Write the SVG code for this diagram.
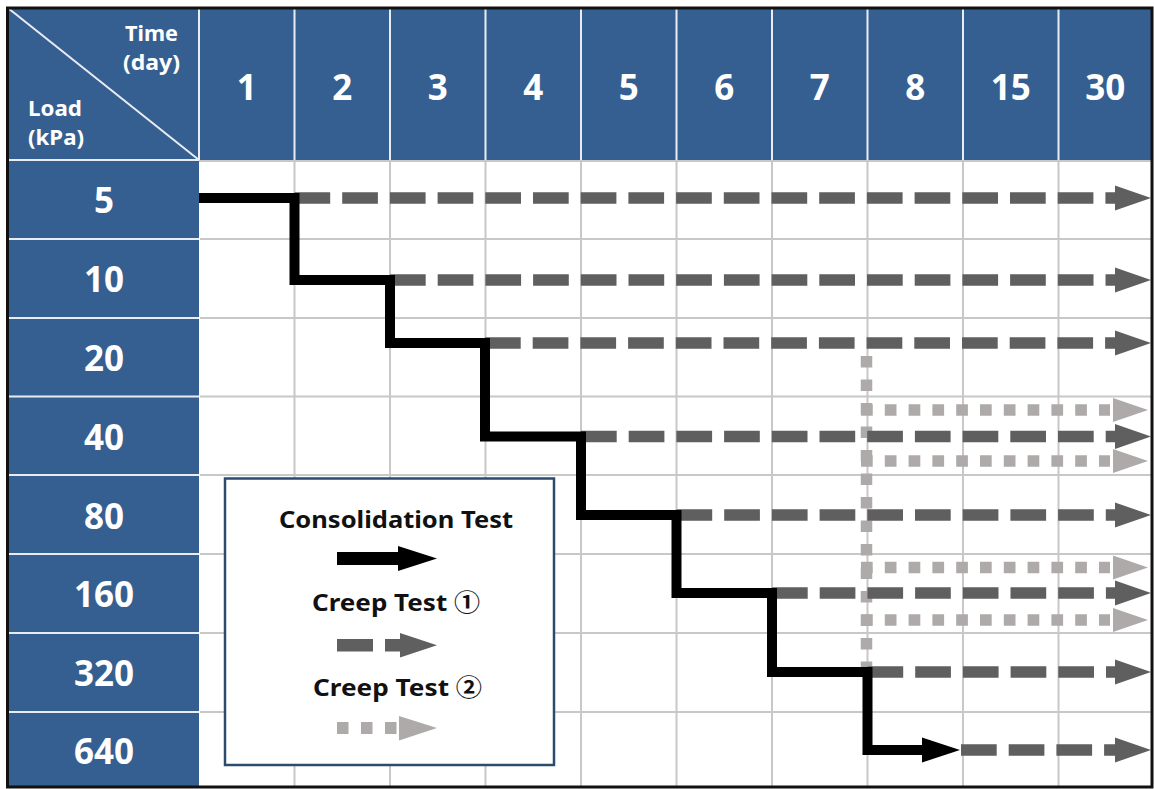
<svg xmlns="http://www.w3.org/2000/svg" width="1154" height="789" viewBox="0 0 1154 789">
<style>
.hdr{fill:#365f91}
.wl{stroke:#e9edf3;stroke-width:2;fill:none}
.gl{stroke:#c8c8c8;stroke-width:2;fill:none}
.num{font-family:"Noto Sans","Open Sans","Noto Sans CJK KR",sans-serif;font-weight:bold;font-size:35px;fill:#ffffff;text-anchor:middle}
.ax{font-family:"Noto Sans","Open Sans","Noto Sans CJK KR",sans-serif;font-weight:bold;font-size:21px;fill:#ffffff}
.leg{font-family:"Noto Sans","Noto Sans CJK KR",sans-serif;font-weight:bold;font-size:24px;fill:#111111}
.cons{stroke:#000000;stroke-width:10;fill:none;stroke-linejoin:miter;stroke-linecap:butt}
.dash{stroke:#5f5f5f;stroke-width:11.5;fill:none;stroke-dasharray:35.7 12}
.dot{stroke:#aeaaaa;stroke-width:11.5;fill:none;stroke-dasharray:11.7 12.1}
.dh{fill:#5f5f5f}
.oh{fill:#aeaaaa}
</style>
<rect x="0" y="0" width="1154" height="789" fill="#ffffff"/>
<g id="header">
<rect class="hdr" x="8" y="8" width="1144" height="152"/>
<rect class="hdr" x="8" y="160" width="191" height="628"/>
<line class="wl" x1="8" y1="8" x2="199" y2="160"/>
<g id="axis-labels">
<text class="ax" x="178" y="41" text-anchor="end" textLength="53" lengthAdjust="spacingAndGlyphs">Time</text>
<text class="ax" x="180" y="70" text-anchor="end" textLength="57" lengthAdjust="spacingAndGlyphs">(day)</text>
<text class="ax" x="28" y="116" textLength="54" lengthAdjust="spacingAndGlyphs">Load</text>
<text class="ax" x="28" y="145" textLength="56" lengthAdjust="spacingAndGlyphs">(kPa)</text>
</g>
<path class="wl" d="M199 8V160M294.5 8V160M390 8V160M485.5 8V160M581 8V160M676.5 8V160M772 8V160M867.5 8V160M963 8V160M1058.5 8V160"/>
<path class="wl" d="M8 160H199M8 239H199M8 318H199M8 396.5H199M8 475H199M8 554H199M8 633H199M8 712H199"/>
</g>
<g id="grid">
<path class="gl" d="M199 161H1151"/>
<path class="gl" d="M294.5 161V787M390 161V787M485.5 161V787M581 161V787M676.5 161V787M772 161V787M867.5 161V787M963 161V787M1058.5 161V787"/>
<path class="gl" d="M200 239H1151M200 318H1151M200 396.5H1151M200 475H1151M200 554H1151M200 633H1151M200 712H1151"/>
</g>
<g id="col-labels">
<text class="num" x="246.75" y="100">1</text>
<text class="num" x="342.25" y="100">2</text>
<text class="num" x="437.75" y="100">3</text>
<text class="num" x="533.25" y="100">4</text>
<text class="num" x="628.75" y="100">5</text>
<text class="num" x="724.25" y="100">6</text>
<text class="num" x="819.75" y="100">7</text>
<text class="num" x="915.25" y="100">8</text>
<text class="num" x="1010.75" y="100">15</text>
<text class="num" x="1105.25" y="100">30</text>
</g>
<g id="row-labels">
<text class="num" x="104" y="213">5</text>
<text class="num" x="104" y="292">10</text>
<text class="num" x="104" y="371">20</text>
<text class="num" x="104" y="450">40</text>
<text class="num" x="104" y="529">80</text>
<text class="num" x="104" y="607">160</text>
<text class="num" x="104" y="686">320</text>
<text class="num" x="104" y="764">640</text>
</g>
<g id="connectors">
<g id="creep2">
<line class="dot" x1="866.5" y1="356" x2="866.5" y2="673" style="stroke-dasharray:11.5 12"/>
<line class="dot" x1="861" y1="410" x2="1110" y2="410"/>
<polygon class="oh" points="1113,398 1148,410 1113,422"/>
<line class="dot" x1="861" y1="461" x2="1110" y2="461"/>
<polygon class="oh" points="1113,449 1148,461 1113,473"/>
<line class="dot" x1="861" y1="567.5" x2="1110" y2="567.5"/>
<polygon class="oh" points="1113,555.5 1148,567.5 1113,579.5"/>
<line class="dot" x1="861" y1="620" x2="1110" y2="620"/>
<polygon class="oh" points="1113,608 1148,620 1113,632"/>
</g>
<g id="creep1">
<line class="dash" x1="294.5" y1="198" x2="1117" y2="198"/>
<polygon class="dh" points="1115,185.5 1151,198 1115,210.5"/>
<line class="dash" x1="390" y1="280" x2="1117" y2="280"/>
<polygon class="dh" points="1115,267.5 1151,280 1115,292.5"/>
<line class="dash" x1="485" y1="343" x2="1117" y2="343"/>
<polygon class="dh" points="1115,330.5 1151,343 1115,355.5"/>
<line class="dash" x1="581" y1="436.5" x2="1117" y2="436.5"/>
<polygon class="dh" points="1115,424 1151,436.5 1115,449"/>
<line class="dash" x1="676.5" y1="515" x2="1117" y2="515"/>
<polygon class="dh" points="1115,502.5 1151,515 1115,527.5"/>
<line class="dash" x1="772" y1="593" x2="1117" y2="593"/>
<polygon class="dh" points="1115,580.5 1151,593 1115,605.5"/>
<line class="dash" x1="867.5" y1="672" x2="1117" y2="672"/>
<polygon class="dh" points="1115,659.5 1151,672 1115,684.5"/>
<line class="dash" x1="961" y1="750" x2="1117" y2="750"/>
<polygon class="dh" points="1115,737.5 1151,750 1115,762.5"/>
</g>
<g id="consolidation">
<path class="cons" d="M199 198H294.5V280H390V343H485V436.5H581V515H676.5V593H772V672H867.5V750H926"/>
<polygon fill="#000000" points="922,737.5 960,750 922,762.5"/>
</g>
</g>
<g id="legend">
<rect x="225" y="478.5" width="329" height="286.5" fill="#ffffff" stroke="#2d4b6e" stroke-width="2.5"/>
<text class="leg" x="279" y="528" textLength="234" lengthAdjust="spacingAndGlyphs">Consolidation Test</text>
<rect x="337" y="552" width="63" height="13" fill="#000000"/>
<polygon fill="#000000" points="398,546 437,558.5 398,571"/>
<text class="leg" x="312" y="611" textLength="168" lengthAdjust="spacingAndGlyphs">Creep Test ①</text>
<rect x="337" y="639" width="36" height="12.5" fill="#5f5f5f"/>
<rect x="385" y="639" width="16" height="12.5" fill="#5f5f5f"/>
<polygon class="dh" points="400,633 437,645.3 400,657.5"/>
<text class="leg" x="313" y="696" textLength="169" lengthAdjust="spacingAndGlyphs">Creep Test ②</text>
<rect x="337" y="722" width="11.5" height="12" fill="#aeaaaa"/>
<rect x="361" y="722" width="11.5" height="12" fill="#aeaaaa"/>
<rect x="385" y="722" width="11.5" height="12" fill="#aeaaaa"/>
<polygon class="oh" points="399,716 437,728 399,740.5"/>
</g>
<rect x="7.5" y="8" width="1144.5" height="779" fill="none" stroke="#111111" stroke-width="3"/>
</svg>
